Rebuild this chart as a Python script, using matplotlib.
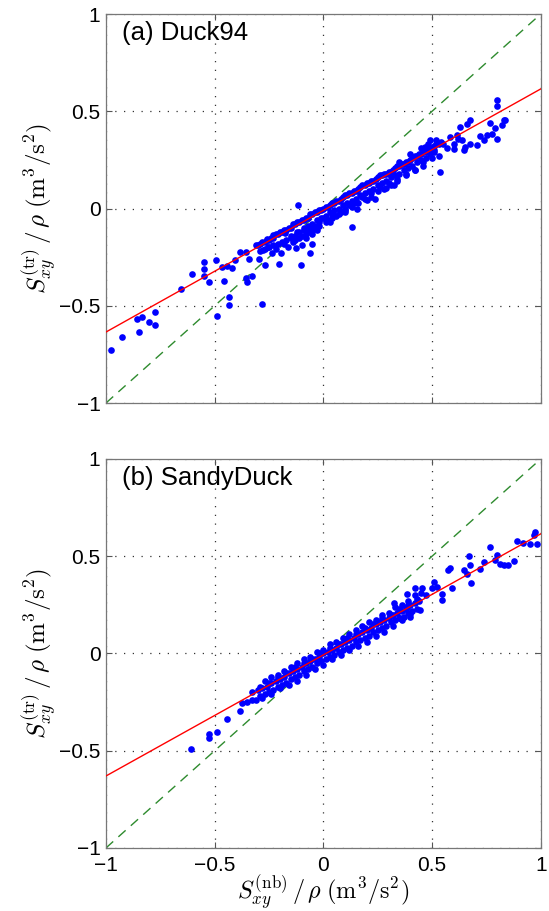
import numpy as np
import matplotlib
matplotlib.use('Agg')
import matplotlib.pyplot as plt

plt.rcParams['font.family'] = ['Liberation Sans', 'DejaVu Sans']
plt.rcParams['mathtext.fontset'] = 'cm'

# ---- panel (a) Duck94 : scattered points ----
duck_out_x = [-0.975,-0.925,-0.849,-0.857,-0.833,-0.803,-0.773,-0.773,-0.653,-0.602,
              -0.550,-0.550,-0.550,-0.528,-0.493,-0.487,-0.465,-0.455,-0.445,-0.435,
              -0.433,-0.419,-0.407,-0.384,-0.358,-0.355,-0.350,-0.343,-0.327,-0.295,
              -0.284,-0.276,-0.270,-0.261,-0.253,-0.238,-0.230,-0.204,-0.197,-0.177,
              -0.161,-0.127,-0.115,-0.103,-0.098,-0.061,-0.054,-0.046,0.031,0.046,
              0.100,0.134,0.154,0.200,0.238,0.289,0.323,0.538,0.645,0.676,
              0.707,0.722,0.737,0.753,0.768,0.776,0.799,0.799,0.799,0.791,
              0.822,0.829,0.837,0.660,0.676,0.630,0.584,0.614,0.599,0.653,
              0.507,0.492,0.469]
duck_out_y = [-0.728,-0.659,-0.634,-0.568,-0.557,-0.582,-0.599,-0.534,-0.414,-0.337,
              -0.274,-0.313,-0.348,-0.377,-0.265,-0.553,-0.300,-0.373,-0.296,-0.457,
              -0.497,-0.308,-0.265,-0.226,-0.356,-0.223,-0.377,-0.260,-0.348,-0.257,
              -0.491,-0.211,-0.291,-0.159,-0.197,-0.231,-0.134,-0.286,-0.231,-0.125,
              -0.197,-0.205,0.017,-0.291,-0.188,-0.231,-0.180,-0.094,-0.068,-0.026,
              -0.017,-0.094,0.000,0.043,0.051,0.103,0.120,0.188,0.300,0.334,
              0.325,0.372,0.354,0.377,0.440,0.382,0.557,0.526,0.360,0.416,
              0.428,0.454,0.457,0.437,0.457,0.420,0.368,0.377,0.308,0.317,
              0.300,0.351,0.317]
duck_a_x = [-0.30,-0.28,-0.26,-0.24,-0.22,-0.20,-0.18,-0.16,-0.14,-0.12,-0.10,-0.08,-0.06,-0.04,
            -0.02,0.00,0.02,0.04,0.06,0.08,0.10,0.12,0.14,0.16,0.18,0.20,0.22,0.24,0.26,0.28,
            0.30,0.32,0.34,0.36,0.38,0.40,0.42,0.44,0.46,0.48,0.50,0.52,0.54]
duck_a_y = [-0.19,-0.17,-0.16,-0.15,-0.13,-0.12,-0.11,-0.10,-0.08,-0.07,-0.06,-0.05,-0.03,-0.02,
            -0.01,0.00,0.01,0.03,0.04,0.05,0.07,0.08,0.09,0.10,0.12,0.13,0.14,0.15,0.17,0.18,
            0.19,0.20,0.22,0.23,0.24,0.25,0.27,0.28,0.29,0.30,0.31,0.33,0.34]
duck_b_x = [-0.29,-0.27,-0.25,-0.23,-0.21,-0.19,-0.17,-0.15,-0.13,-0.11,-0.09,-0.07,-0.05,-0.03,
            -0.01,0.01,0.03,0.05,0.07,0.09,0.11,0.13,0.15,0.17,0.19,0.21,0.23,0.25,0.27,0.29,
            0.31,0.33,0.35,0.37,0.39,0.41,0.43,0.45,0.47,0.49,0.51]
duck_b_y = [-0.22,-0.21,-0.20,-0.19,-0.18,-0.17,-0.16,-0.14,-0.14,-0.12,-0.11,-0.09,-0.08,-0.06,
            -0.05,-0.04,-0.02,-0.01,0.00,0.02,0.03,0.04,0.05,0.07,0.08,0.09,0.10,0.12,0.13,0.14,
            0.16,0.17,0.18,0.20,0.21,0.22,0.24,0.25,0.26,0.28,0.29]
duck_c_x = [-0.15,-0.13,-0.12,-0.10,-0.09,-0.08,-0.07,-0.06,-0.05,-0.04,-0.03,-0.02,0.00,0.02,0.04,
            0.06,0.08,0.10,0.12,0.14,0.18,0.22,0.26,0.30,0.34,0.38,0.42,0.46,0.50,0.53,
            0.35,0.40,0.45,0.48,0.52,0.55,0.57,0.60,0.62,0.64]
duck_c_y = [-0.15,-0.16,-0.12,-0.14,-0.10,-0.15,-0.12,-0.10,-0.13,-0.09,-0.11,-0.07,-0.05,-0.06,-0.03,
            -0.04,-0.02,0.00,0.02,0.03,0.06,0.08,0.11,0.13,0.15,0.18,0.20,0.22,0.26,0.27,
            0.24,0.28,0.31,0.33,0.35,0.33,0.31,0.33,0.36,0.35]
duck_d_x = [-0.31,-0.29,-0.27,-0.25,-0.23,-0.21,-0.19,-0.17,-0.15,-0.13,-0.11,-0.09,-0.07,-0.05,
            -0.03,-0.01,0.01,0.03,0.05,0.07,0.09,0.11,0.13,0.15,0.17,0.19,0.21,0.23,0.25,0.27,
            0.29,0.31,0.33,0.35,0.37,0.39,0.41,0.43,0.45,0.47,0.49,0.51,0.53]
duck_d_y = [-0.19,-0.18,-0.17,-0.16,-0.15,-0.13,-0.12,-0.11,-0.10,-0.08,-0.07,-0.06,-0.05,-0.03,
            -0.02,-0.01,0.01,0.02,0.03,0.04,0.06,0.07,0.08,0.09,0.11,0.12,0.13,0.14,0.16,0.17,
            0.18,0.19,0.21,0.22,0.23,0.24,0.26,0.27,0.28,0.29,0.31,0.32,0.33]
duck_e_x = [-0.22,-0.18,-0.14,-0.11,-0.08,-0.05,-0.02,0.01,0.04,0.07,0.10,0.13,0.16,0.19,0.22,
            0.25,0.28,0.31,0.34,0.38,0.42,0.46]
duck_e_y = [-0.21,-0.18,-0.17,-0.15,-0.13,-0.11,-0.09,-0.07,-0.05,-0.03,-0.01,0.01,0.03,0.05,0.06,
            0.09,0.10,0.12,0.14,0.17,0.20,0.24]

# ---- panel (b) SandyDuck ----
sandy_out_x = [-0.607,-0.528,-0.528,-0.488,-0.445,-0.384,-0.376,-0.353,-0.330,
               0.975,0.968,0.983,0.952,0.919,0.892,0.876,0.848,0.829,0.814,
               0.799,0.791,0.765,0.737,0.722,0.679,0.668,0.673,0.645,0.660,
               0.581,0.572,0.591,0.545,0.545,0.507,0.522,0.499,0.453,0.422,
               0.445,0.384,0.399,0.353,0.323,0.386]
sandy_out_y = [-0.491,-0.416,-0.437,-0.406,-0.337,-0.295,-0.257,-0.248,-0.240,
               0.625,0.608,0.562,0.562,0.570,0.579,0.474,0.457,0.454,0.462,
               0.505,0.479,0.548,0.471,0.432,0.360,0.502,0.457,0.428,0.411,
               0.440,0.428,0.334,0.274,0.308,0.365,0.342,0.334,0.334,0.337,
               0.223,0.308,0.205,0.180,0.257,0.240]
sandy_a_x = [-0.30,-0.28,-0.26,-0.24,-0.22,-0.20,-0.18,-0.16,-0.14,-0.12,-0.10,-0.08,-0.06,-0.04,
             -0.02,0.00,0.02,0.04,0.06,0.08,0.10,0.12,0.14,0.16,0.18,0.20,0.22,0.24,0.26,0.28,
             0.30,0.32,0.34,0.36,0.38,0.40,0.42,0.44]
sandy_a_y = [-0.19,-0.18,-0.17,-0.15,-0.14,-0.13,-0.12,-0.10,-0.09,-0.08,-0.07,-0.05,-0.04,-0.03,
             -0.02,0.00,0.01,0.02,0.03,0.05,0.06,0.07,0.08,0.10,0.11,0.12,0.13,0.15,0.16,0.17,
             0.18,0.20,0.21,0.22,0.23,0.25,0.26,0.27]
sandy_b_x = [-0.31,-0.29,-0.27,-0.25,-0.23,-0.21,-0.19,-0.17,-0.15,-0.13,-0.11,-0.09,-0.07,-0.05,
             -0.03,-0.01,0.01,0.03,0.05,0.07,0.09,0.11,0.13,0.15,0.17,0.19,0.21,0.23,0.25,0.27,
             0.29,0.31,0.33,0.35,0.37,0.39,0.41,0.43]
sandy_b_y = [-0.24,-0.22,-0.21,-0.20,-0.19,-0.17,-0.16,-0.15,-0.13,-0.12,-0.11,-0.09,-0.08,-0.07,
             -0.05,-0.04,-0.03,-0.02,-0.01,0.01,0.02,0.03,0.04,0.06,0.07,0.08,0.09,0.11,0.12,0.13,
             0.14,0.16,0.17,0.18,0.19,0.21,0.22,0.23]
sandy_c_x = [-0.27,-0.24,-0.21,-0.18,-0.15,-0.12,-0.09,-0.06,-0.03,0.00,0.03,0.06,0.09,0.12,
             0.15,0.18,0.21,0.24,0.27,0.30,0.33,0.36,0.39,0.42,0.45]
sandy_c_y = [-0.14,-0.12,-0.11,-0.09,-0.07,-0.05,-0.03,-0.02,0.01,0.02,0.05,0.06,0.08,0.10,
             0.12,0.14,0.16,0.17,0.20,0.21,0.24,0.25,0.27,0.30,0.31]
sandy_d_x = [-0.33,-0.29,-0.25,-0.21,-0.17,-0.13,-0.09,-0.05,-0.01,0.03,0.07,0.11,0.15,0.19,
             0.23,0.27,0.31,0.35,0.39,0.43,0.47]
sandy_d_y = [-0.20,-0.17,-0.15,-0.12,-0.10,-0.07,-0.05,-0.03,0.00,0.03,0.05,0.08,0.10,0.13,
             0.15,0.18,0.20,0.23,0.25,0.28,0.30]
sandy_e_x = [-0.28,-0.24,-0.20,-0.16,-0.12,-0.08,-0.04,0.00,0.04,0.08,0.12,0.16,0.20,0.24,
             0.28,0.32,0.36,0.40]
sandy_e_y = [-0.23,-0.21,-0.18,-0.16,-0.14,-0.11,-0.08,-0.06,-0.03,-0.01,0.02,0.04,0.06,0.09,
             0.11,0.14,0.17,0.19]

# regression lines (slope, intercept)
duck_fit = (0.625, -0.010)
sandy_fit = (0.6225, -0.0075)

ticks = [-1, -0.5, 0, 0.5, 1]
tick_labels = ['\u22121', '\u22120.5', '0', '0.5', '1']

fig = plt.figure(figsize=(5.49, 9.11), dpi=100)
ax1 = fig.add_axes([0.193, 0.5576, 0.792, 0.427])
ax2 = fig.add_axes([0.193, 0.0692, 0.792, 0.427])

panels = [(ax1, '(a) Duck94',
           [(duck_out_x, duck_out_y), (duck_a_x, duck_a_y), (duck_b_x, duck_b_y),
            (duck_c_x, duck_c_y), (duck_d_x, duck_d_y), (duck_e_x, duck_e_y)],
           duck_fit),
          (ax2, '(b) SandyDuck',
           [(sandy_out_x, sandy_out_y), (sandy_a_x, sandy_a_y), (sandy_b_x, sandy_b_y),
            (sandy_c_x, sandy_c_y), (sandy_d_x, sandy_d_y), (sandy_e_x, sandy_e_y)],
           sandy_fit)]

xl = np.array([-1, 1])
for ax, title, groups, fit in panels:
    for gx, gy in groups:
        ax.plot(gx, gy, 'o', color='#0000ff', ms=4.8, mew=0, zorder=3)
    ax.plot(xl, fit[0]*xl + fit[1], color='#ff0000', lw=1.0, zorder=4)
    ax.plot(xl, xl, color='#2e8b2e', lw=1.0, ls=(0, (7, 5)), zorder=2)
    ax.set_xlim(-1, 1)
    ax.set_ylim(-1, 1)
    ax.set_xticks(ticks)
    ax.set_yticks(ticks)
    ax.set_yticklabels(tick_labels, fontsize=15)
    ax.grid(True, color='#333333', ls=(0, (1, 6)), lw=0.9)
    ax.tick_params(direction='in', top=True, right=True, length=4, color='#555555', pad=4)
    for sp in ax.spines.values():
        sp.set_color('#777777')
        sp.set_linewidth(0.9)
    ax.text(0.037, 0.95, title, transform=ax.transAxes, fontsize=18.5, va='center', ha='left')
    ax.set_ylabel(r'$S_{xy}^{(\mathrm{tr})}\,/\,\rho\;(\mathrm{m}^3/\mathrm{s}^2)$', fontsize=18, labelpad=0)

ax1.set_xticklabels([])
ax2.set_xticklabels(tick_labels, fontsize=15)
ax2.tick_params(axis='x', pad=6)
ax2.set_xlabel(r'$S_{xy}^{(\mathrm{nb})}\,/\,\rho\;(\mathrm{m}^3/\mathrm{s}^2)$', fontsize=17.5, labelpad=-1)

fig.savefig('out.png', dpi=100)
